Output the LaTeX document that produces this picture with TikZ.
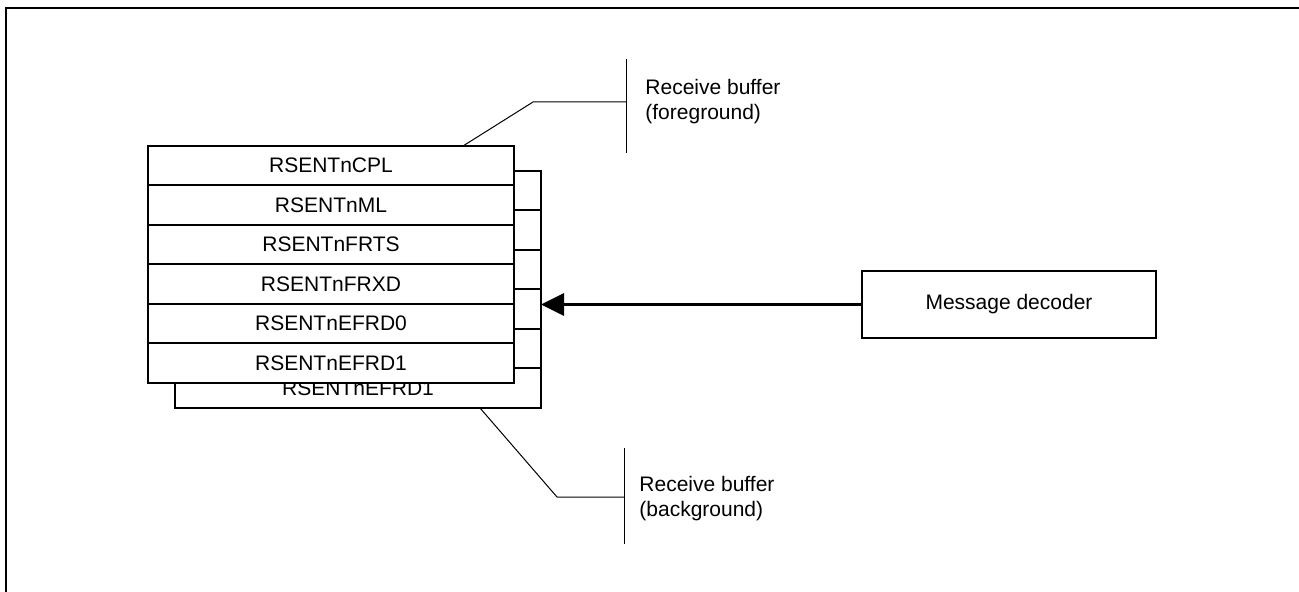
\documentclass[tikz,border=0pt]{standalone}
\usepackage{fontspec}
\setmainfont{Liberation Sans}
\usetikzlibrary{arrows.meta,positioning}

\begin{document}
\begin{tikzpicture}[
x=0.5pt, y=-0.5pt,
every node/.style={font=\fontsize{10.5}{12.5}\selectfont},
reg/.style={draw, line width=1pt, fill=white, minimum width=183pt, minimum height=19.75pt, inner sep=0pt, outer sep=0pt},
block/.style={draw, line width=1pt, fill=white, minimum width=147pt, minimum height=33.5pt, inner sep=0pt},
leader/.style={draw, line width=0.5pt},
note/.style={align=left, anchor=west, inner sep=0pt},
flow/.style={draw, line width=1.75pt, -{Triangle[length=11.5pt, width=11pt]}}
]
\useasboundingbox (0,0) rectangle (1299,592);
\draw[line width=1pt] (6,592) -- (6,8.5) -- (1299,8.5);

% background buffer
\foreach \i in {1,...,6}
    \node[reg] (b\i) at (358,{151.25+39.5*\i}) {};
\node at (b6) {RSENTnEFRD1};

% foreground buffer
\foreach \txt [count=\i] in {RSENTnCPL,RSENTnML,RSENTnFRTS,RSENTnFRXD,RSENTnEFRD0,RSENTnEFRD1}
    \node[reg] (r\i) at (331,{126.25+39.5*\i}) {\txt};

\node[block] (dec) at (1009,304.5) {Message decoder};
\draw[flow] (dec.west) -- (dec.west -| b1.east);

% labels
\node[note] (fgnote) at (645,102) {Receive buffer\\(foreground)};
\node[note] (bgnote) at (639,499) {Receive buffer\\(background)};

\coordinate (fgfoot) at (463,146);
\coordinate (fgbend) at (533,102);
\draw[leader] (fgfoot) -- (fgbend) -- (626,102);
\draw[leader] (626,59) -- (626,153);

\coordinate (bgfoot) at (480,408);
\coordinate (bgbend) at (557,497);
\draw[leader] (bgfoot) -- (bgbend) -- (624,497);
\draw[leader] (624,448) -- (624,544);

\end{tikzpicture}
\end{document}
